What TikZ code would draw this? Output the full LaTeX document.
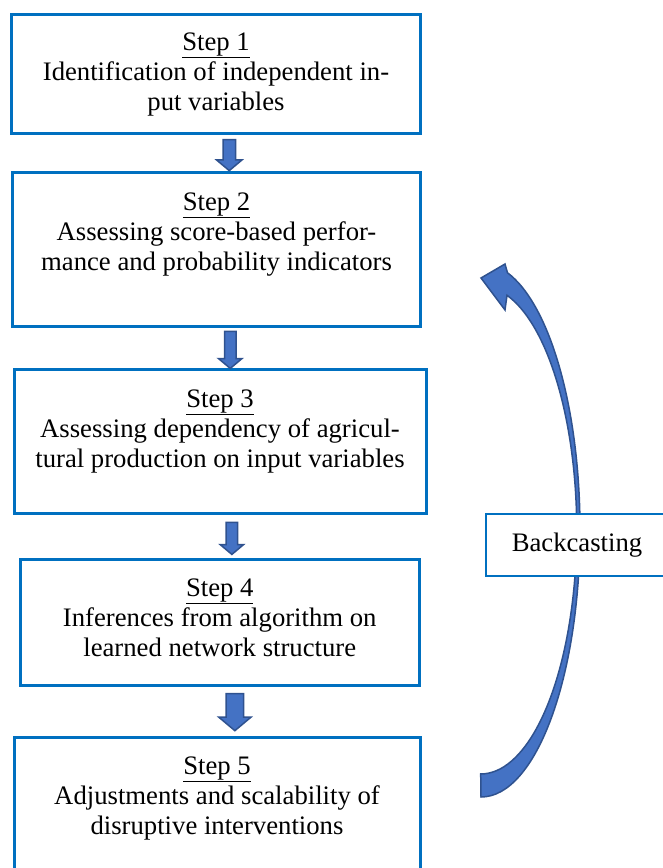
\documentclass[tikz,border=0pt]{standalone}
\usepackage{fontspec}
\setmainfont{Liberation Serif}
\usetikzlibrary{positioning,shapes.arrows}
\definecolor{boxblue}{RGB}{0,112,192}
\definecolor{arrowfill}{RGB}{68,114,196}
\definecolor{arrowline}{RGB}{47,82,143}
\tikzset{
    stepbox/.style={draw=boxblue, line width=3pt, fill=white, rectangle, inner sep=0pt},
    steptext/.style={align=center, inner sep=0pt, anchor=north},
    blockarrow/.style={single arrow, rotate=-90, draw=arrowline, fill=arrowfill, line width=1.5pt, inner sep=#1, single arrow tip angle=100, single arrow head indent=0pt},
    bendarrow/.style={draw=arrowline, fill=arrowfill, line width=1.5pt, line join=miter}
}
\begin{document}
\begin{tikzpicture}[x=1pt, y=-1pt, font=\fontsize{26.7}{30}\selectfont]
                    \useasboundingbox (0,0) rectangle (663,868);
                    \node[stepbox, minimum width=409pt, minimum height=119pt] (s1) at (216,73.5) {};
                    \node[stepbox, minimum width=408pt, minimum height=154pt] (s2) at (216.5,249) {};
                    \node[stepbox, minimum width=412pt, minimum height=144pt] (s3) at (220,441) {};
                    \node[stepbox, minimum width=399.5pt, minimum height=126pt] (s4) at (219.75,622) {};
                    \node[stepbox, minimum width=406pt, minimum height=143pt] (s5) at (217,808.5) {};
                    \node[steptext, below=20pt of s1.north] (t1) {\underline{Step 1}\\Identification of independent in-\\put variables};
                    \node[steptext, below=22pt of s2.north] (t2) {\underline{Step 2}\\Assessing score-based perfor-\\mance and probability indicators};
                    \node[steptext, below=22pt of s3.north] (t3) {\underline{Step 3}\\Assessing dependency of agricul-\\tural production on input variables};
                    \node[steptext, below=21pt of s4.north] (t4) {\underline{Step 4}\\Inferences from algorithm on\\learned network structure};
                    \node[steptext, below=21pt of s5.north] (t5) {\underline{Step 5}\\Adjustments and scalability of\\disruptive interventions};

                    \path (s1.south) -- (s2.north) node[midway, xshift=13pt, blockarrow=5.5pt, minimum height=31pt, single arrow head extend=6.5pt] (a1) {};
                    \path (s2.south) -- (s3.north) node[midway, xshift=12pt, blockarrow=5pt, minimum height=37pt, single arrow head extend=6pt] (a2) {};
                    \path (s3.south) -- (s4.north) node[midway, xshift=12pt, blockarrow=5pt, minimum height=32pt, single arrow head extend=6pt] (a3) {};
                    \path (s4.south) -- (s5.north) node[midway, xshift=16.5pt, yshift=2.5pt, blockarrow=8pt, minimum height=37pt, single arrow head extend=7.5pt] (a4) {};

                    \coordinate (tail) at (481,797);
                    \coordinate (tip) at (481,278);
                    \draw[bendarrow] (tail) arc[start angle=90, end angle=-74.5, x radius=99, y radius=267] -- (505,264) -- (tip) -- (505,310) -- (507,295.3) arc[start angle=-74.1, end angle=90, x radius=96, y radius=244] -- cycle;
                    \node[stepbox, line width=2pt, minimum width=182pt, minimum height=62pt] (bc) at (577,545) {Backcasting};
                \end{tikzpicture}
\end{document}
